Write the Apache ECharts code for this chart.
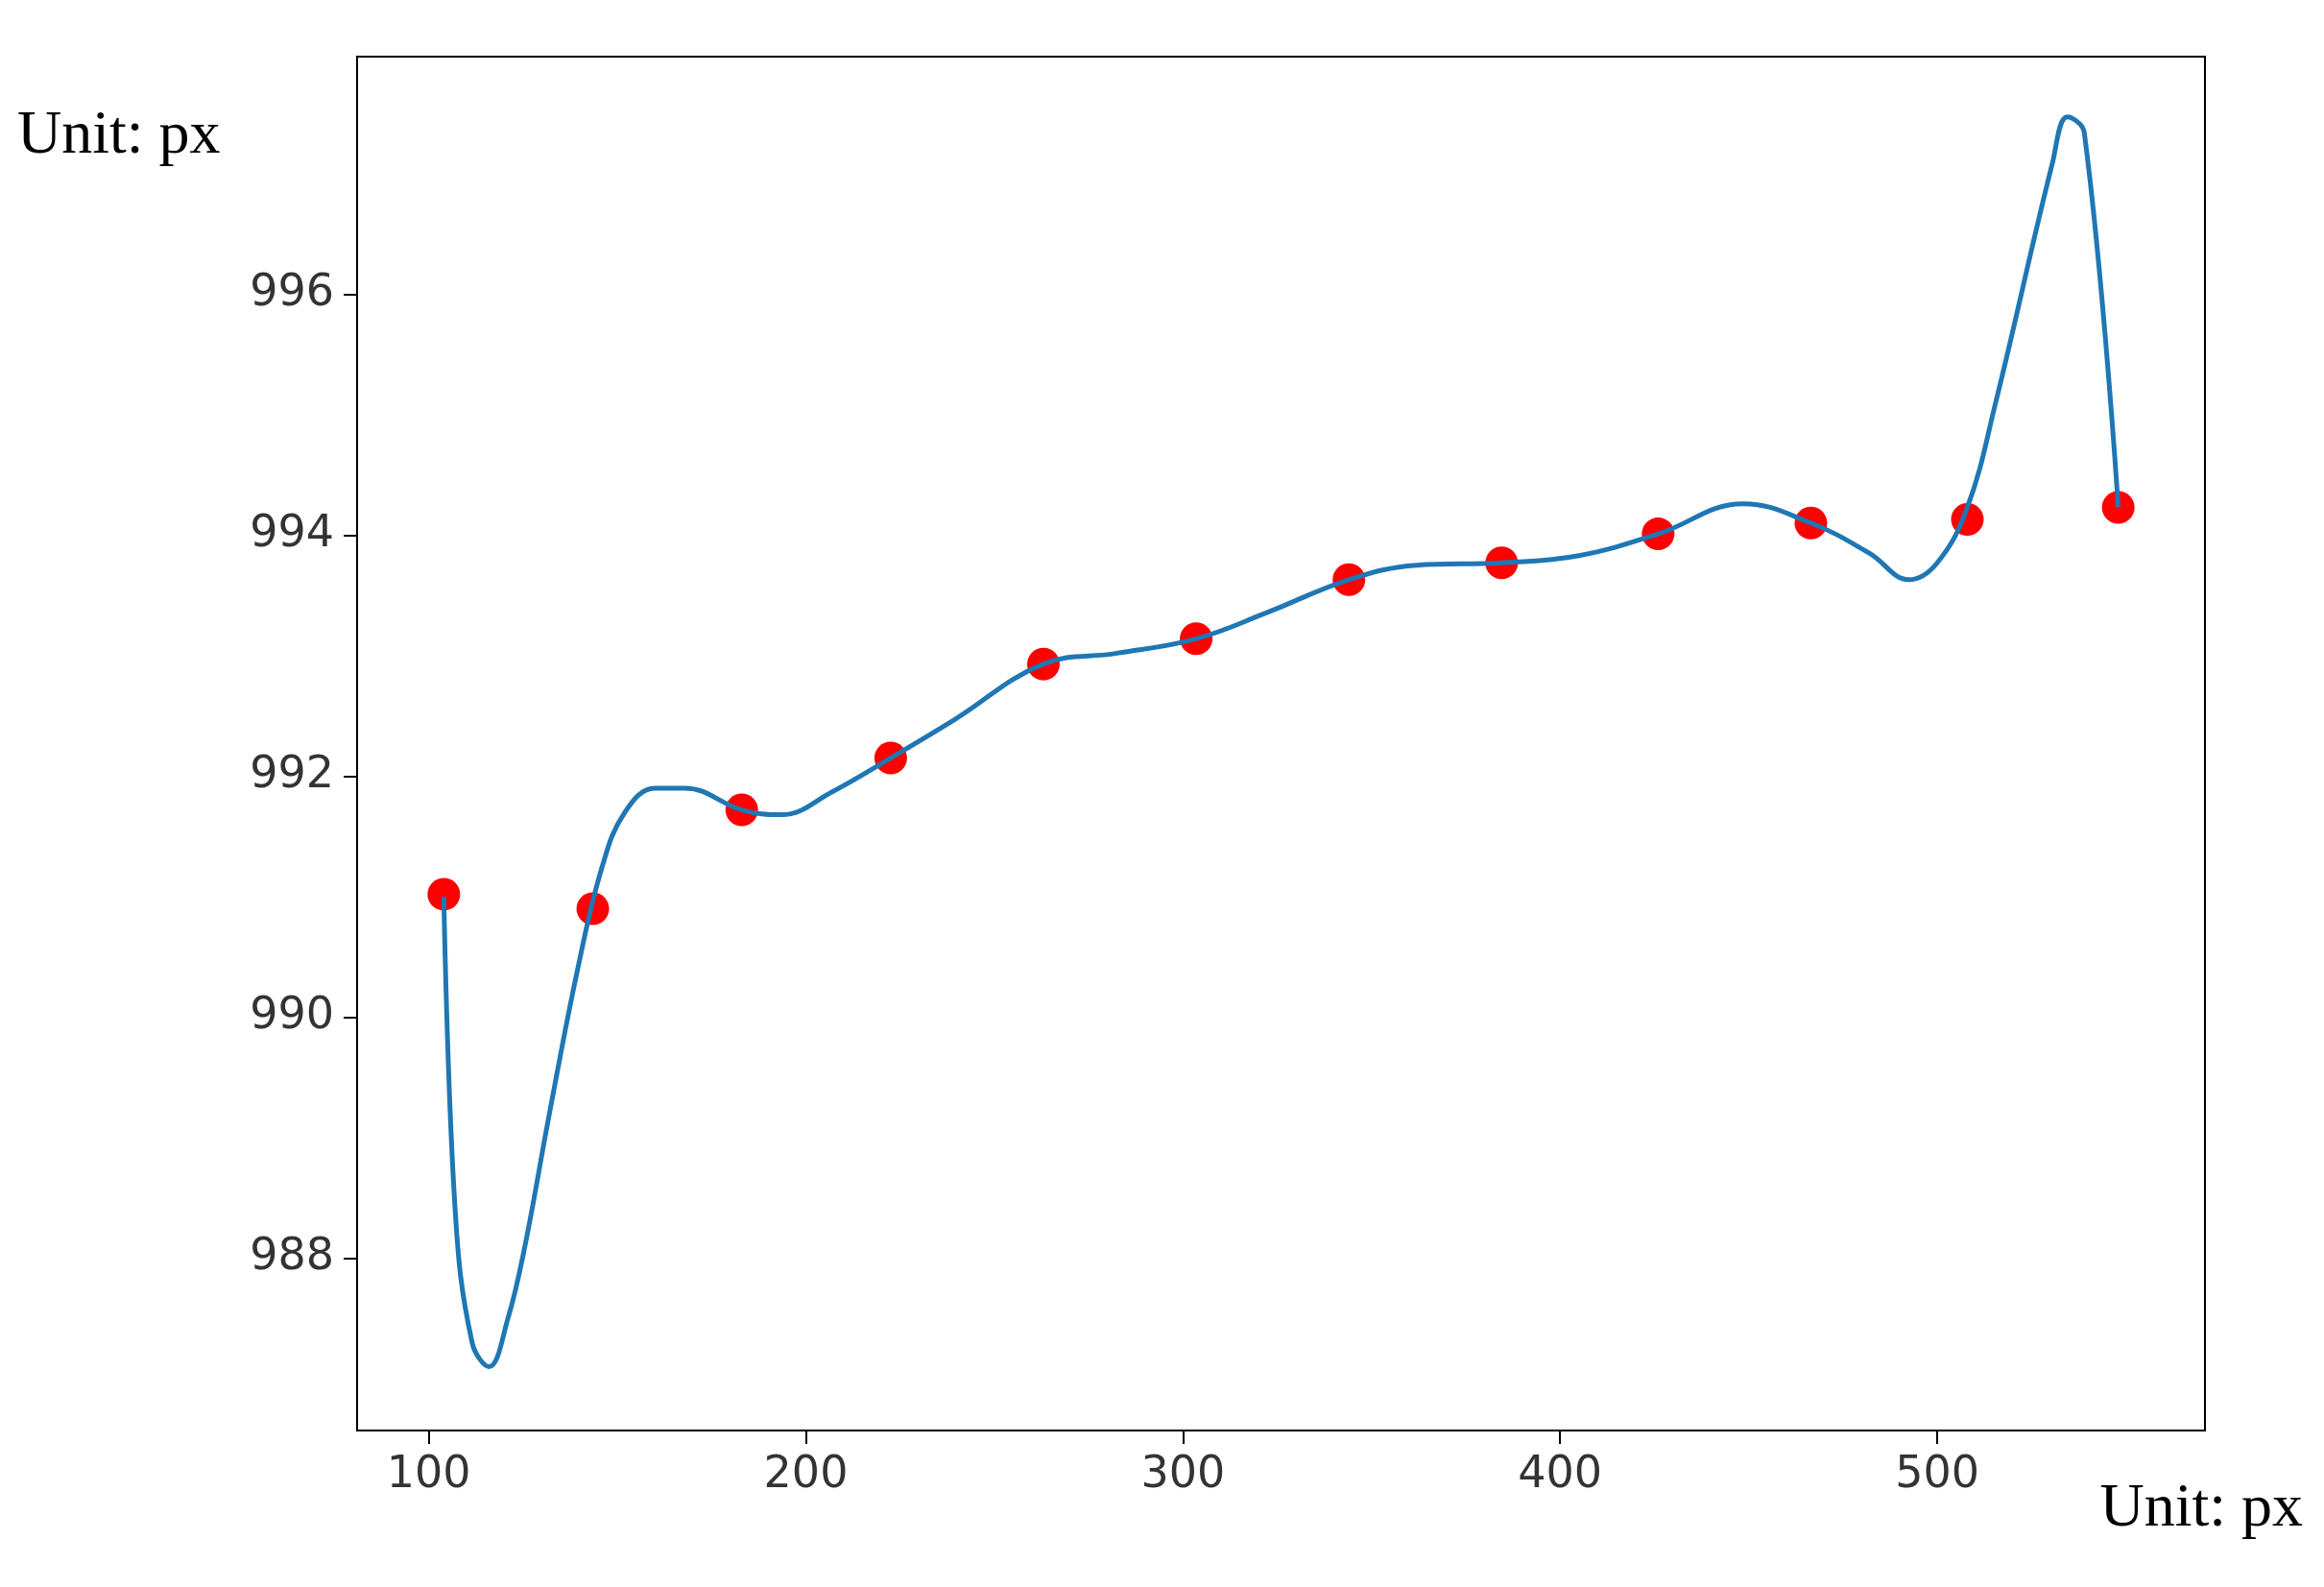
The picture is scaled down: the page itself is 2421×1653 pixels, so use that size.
<!DOCTYPE html>
<html lang="en">
<head>
    <meta charset="UTF-8">
    <title>Unit: px</title>
    <style>html,body{margin:0;padding:0;background:#fff;}</style>
</head>
<body>
<div id="main" style="width:2421px;height:1653px;"></div>
<script src="https://cdn.jsdelivr.net/npm/echarts@6/dist/echarts.min.js"></script>
<script>
    // curve points (x, y)
    var curveX = [104, 107, 111.5, 116, 121, 125.5, 132, 139.5, 146, 152, 160, 168, 183, 193.5, 207, 222.5, 239, 263, 282.5, 303.5, 322.5, 344, 362, 384.5, 405, 426, 448.5, 466.5, 482, 492.5, 500, 508, 515.5, 530.5, 534.5, 539, 548];
    var curveY = [991.0, 988.4, 987.3, 987.1, 987.5, 988.1, 989.2, 990.4, 991.25, 991.7, 991.9, 991.9, 991.72, 991.68, 991.87, 992.15, 992.46, 992.93, 993.02, 993.14, 993.36, 993.63, 993.75, 993.77, 993.83, 994.01, 994.26, 994.1, 993.85, 993.63, 993.77, 994.23, 995.1, 997.08, 997.47, 997.34, 994.23];
    // red sample points
    var dotX = [104, 143.5, 183, 222.5, 263, 303.5, 344, 384.5, 426, 466.5, 508, 548];
    var dotY = [991.02, 990.9, 991.72, 992.15, 992.93, 993.14, 993.63, 993.77, 994.01, 994.1, 994.13, 994.23];
    var xTicks = [100, 200, 300, 400, 500];
    var yTicks = [988, 990, 992, 994, 996];

    function pairs(xs, ys) {
        var out = [];
        for (var i = 0; i < xs.length; i++) out.push([xs[i], ys[i]]);
        return out;
    }

    var app = echarts.init(document.getElementById('main'));
    var labelStyle = {fontFamily: 'DejaVu Sans', fontSize: 46, color: '#333'};
    var option = {
        animation: false,
        grid: {left: 372, right: 124, top: 59, bottom: 163, show: true, borderColor: '#000', borderWidth: 2},
        xAxis: {
            type: 'value', min: 81, max: 571,
            axisLine: {show: false},
            splitLine: {show: false},
            axisTick: {show: true, length: 14, lineStyle: {color: '#000', width: 2}, customValues: xTicks},
            axisLabel: Object.assign({margin: 24, customValues: xTicks}, labelStyle)
        },
        yAxis: {
            type: 'value', min: 986.57, max: 997.97,
            axisLine: {show: false},
            splitLine: {show: false},
            axisTick: {show: true, length: 14, lineStyle: {color: '#000', width: 2}, customValues: yTicks},
            axisLabel: Object.assign({margin: 24, customValues: yTicks}, labelStyle)
        },
        graphic: [
            {type: 'text', left: 18, top: 110, style: {text: 'Unit: px', font: '64px "Liberation Serif"', fill: '#000'}},
            {type: 'text', right: 22, top: 1540, style: {text: 'Unit: px', font: '64px "Liberation Serif"', fill: '#000'}}
        ],
        series: [
            {
                type: 'line', data: pairs(curveX, curveY), smooth: 0.4, showSymbol: false,
                lineStyle: {color: '#1f77b4', width: 5}
            },
            {
                type: 'scatter', data: pairs(dotX, dotY), symbolSize: 34,
                itemStyle: {color: '#ff0000', opacity: 1}
            }
        ]
    };
    app.setOption(option);
</script>
</body>
</html>
